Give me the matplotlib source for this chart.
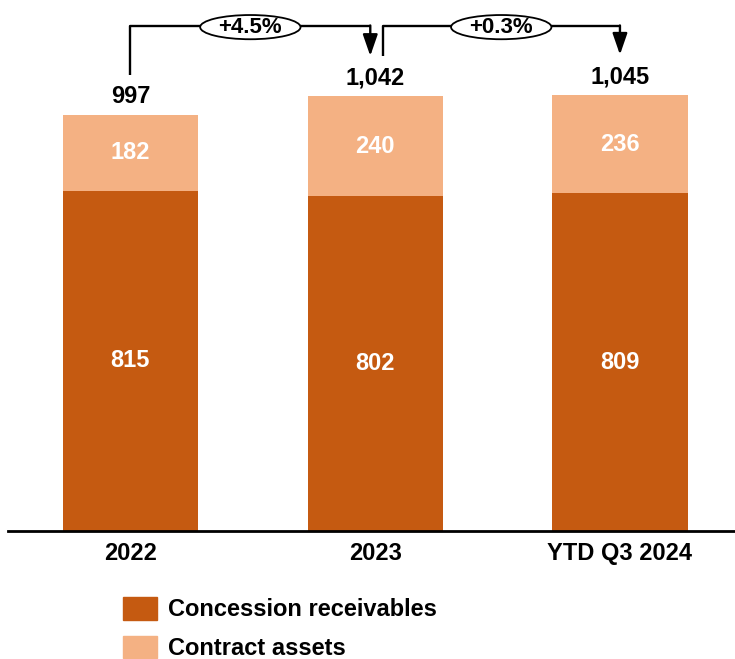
import numpy as np
import matplotlib
matplotlib.use('Agg')
import matplotlib.pyplot as plt
from matplotlib.patches import Ellipse, Patch

# data
categories = ['2022', '2023', 'YTD Q3 2024']
concession = [815, 802, 809]
contract = [182, 240, 236]
totals = ['997', '1,042', '1,045']
growth = ['+4.5%', '+0.3%']

dark = '#C55A11'
light = '#F4B183'

plt.rcParams['font.family'] = ['Liberation Sans', 'DejaVu Sans']
plt.rcParams['font.weight'] = 'bold'

fig = plt.figure(figsize=(7.35, 6.59), dpi=100)
ax = fig.add_axes([8 / 735, 128 / 659, 727 / 735, 531 / 659])

x = np.arange(len(categories))
w = 0.552
ax.bar(x, concession, w, color=dark)
ax.bar(x, contract, w, bottom=concession, color=light)

fs = 17
for i in range(len(x)):
    ax.text(x[i], concession[i] / 2, str(concession[i]), ha='center', va='center',
            color='white', fontsize=fs, fontweight='bold')
    ax.text(x[i], concession[i] + contract[i] / 2, str(contract[i]), ha='center',
            va='center', color='white', fontsize=fs, fontweight='bold')
    tot = concession[i] + contract[i]
    ax.text(x[i], tot + 16, totals[i], ha='center', va='bottom', color='black',
            fontsize=fs, fontweight='bold')

# growth brackets
vals = [c + k for c, k in zip(concession, contract)]
starts = [(x[0], vals[0] + 95), (x[1] + 0.03, vals[1] + 95)]
ends = [(x[1] - 0.02, vals[1] + 96), (x[2], vals[2] + 96)]
top = 1210
for (sx, sy), (ex, ey), g in zip(starts, ends, growth):
    ax.plot([sx, sx, ex], [sy, top, top], color='black', lw=1.7,
            solid_capstyle='butt', clip_on=False)
    ax.annotate('', xy=(ex, ey), xytext=(ex, top + 1),
                arrowprops=dict(arrowstyle='-|>,head_width=0.45,head_length=1.3',
                                color='black', lw=1.7, shrinkA=0, shrinkB=0))
    cx = (sx + ex) / 2
    ax.add_patch(Ellipse((cx, top - 3), 0.41, 58, facecolor='white', edgecolor='black',
                         lw=1.3, zorder=5, clip_on=False))
    ax.text(cx, top - 3, g, ha='center', va='center', fontsize=16, fontweight='bold',
            zorder=6)

ax.set_xlim(-0.5, 2.47)
ax.set_ylim(0, 1272)
ax.set_xticks(x)
ax.set_xticklabels(categories, fontsize=fs, fontweight='bold')
ax.tick_params(axis='x', length=0, pad=8)
ax.set_yticks([])
for s in ['top', 'right', 'left']:
    ax.spines[s].set_visible(False)
ax.spines['bottom'].set_linewidth(2)

handles = [Patch(color=dark, label='Concession receivables'),
           Patch(color=light, label='Contract assets')]
fig.legend(handles=handles, loc='upper left', bbox_to_anchor=(123 / 735, 1 - 597 / 659),
           frameon=False, borderpad=0, borderaxespad=0,
           handlelength=1.44, handleheight=1.1, handletextpad=0.47, labelspacing=0.6,
           prop={'weight': 'bold', 'size': fs})

fig.savefig('out.png', dpi=100)
